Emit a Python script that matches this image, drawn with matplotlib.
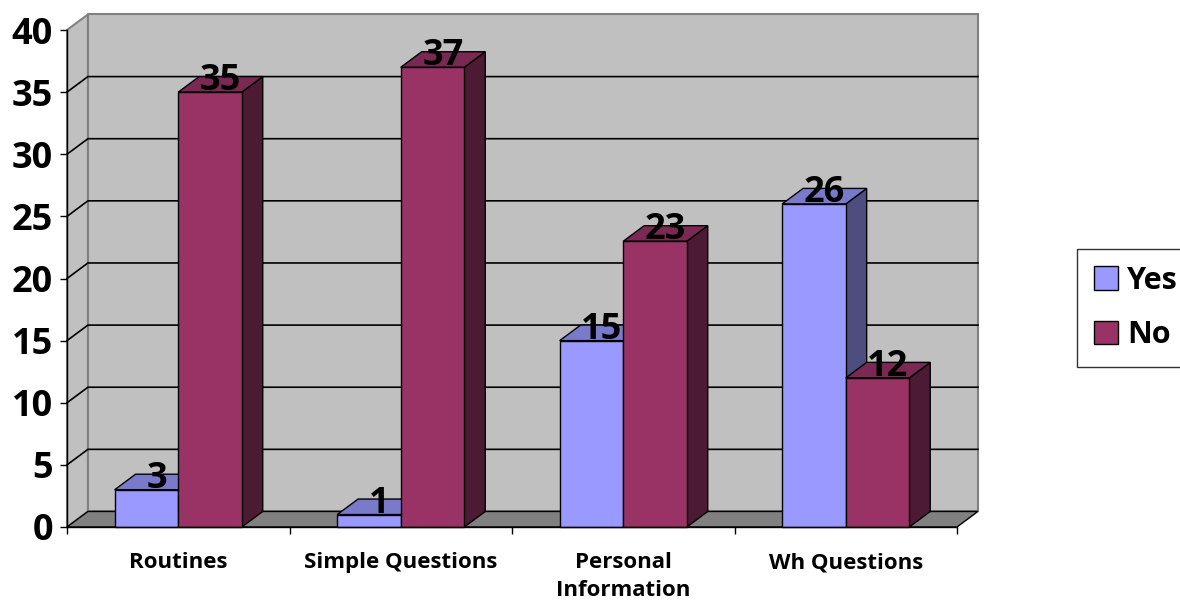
import matplotlib
matplotlib.use("Agg")
import matplotlib.pyplot as plt
from matplotlib.patches import Polygon, Patch

# Chart data
categories = ["Routines", "Simple Questions", "Personal\nInformation", "Wh Questions"]
yes_values = [3, 1, 15, 26]
no_values = [35, 37, 23, 12]
series_names = ["Yes", "No"]
y_ticks = [0, 5, 10, 15, 20, 25, 30, 35, 40]

# Face colours for each series: front, top, side
yes_colors = ("#9999FF", "#7A7ACC", "#4D4D80")
no_colors = ("#993366", "#7A2952", "#4D1A33")

plt.rcParams["font.family"] = ["Open Sans", "DejaVu Sans"]
plt.rcParams["font.weight"] = "bold"

W, H = 1180, 606
fig = plt.figure(figsize=(W / 100, H / 100), dpi=100)
ax = fig.add_axes([67 / W, 79 / H, 890 / W, 497 / H])

n = len(categories)
ymax = y_ticks[-1]
ax.set_xlim(0, n)
ax.set_ylim(0, ymax)

# depth of the pseudo-3D walls and columns, in data units
DX = 0.094
DY = 1.25
bar_w = 1 / 3.5

# back wall, side wall and floor
ax.add_patch(Polygon([(DX, DY), (n + DX, DY), (n + DX, ymax + DY), (DX, ymax + DY)],
                     closed=True, fc="#C0C0C0", ec="#808080", lw=1.5,
                     clip_on=False, zorder=0))
ax.add_patch(Polygon([(0, 0), (DX, DY), (DX, ymax + DY), (0, ymax)],
                     closed=True, fc="#C0C0C0", ec="#808080", lw=1.5,
                     clip_on=False, zorder=0))
ax.add_patch(Polygon([(0, 0), (n, 0), (n + DX, DY), (DX, DY)],
                     closed=True, fc="#808080", ec="black", lw=1.0,
                     clip_on=False, zorder=0.5))

# gridlines running along the side wall and the back wall
for v in y_ticks[1:-1]:
    ax.plot([0, DX, n + DX], [v, v + DY, v + DY], color="black", lw=1.2,
            clip_on=False, zorder=1, solid_joinstyle="miter")


def column(x0, h, colors, z):
    front, top, side = colors
    ax.add_patch(Polygon([(x0 + bar_w, 0), (x0 + bar_w + DX, DY),
                          (x0 + bar_w + DX, h + DY), (x0 + bar_w, h)],
                         closed=True, fc=side, ec="black", lw=1.0,
                         clip_on=False, zorder=z))
    ax.add_patch(Polygon([(x0, h), (x0 + bar_w, h), (x0 + bar_w + DX, h + DY),
                          (x0 + DX, h + DY)],
                         closed=True, fc=top, ec="black", lw=1.0,
                         clip_on=False, zorder=z))
    ax.add_patch(Polygon([(x0, 0), (x0 + bar_w, 0), (x0 + bar_w, h), (x0, h)],
                         closed=True, fc=front, ec="black", lw=1.0,
                         clip_on=False, zorder=z + 0.01))
    ax.text(x0 + bar_w / 2 + DX / 2, h + 0.15, str(h), ha="center",
            va="baseline", fontsize=26, fontweight="bold", zorder=20)


z = 2.0
for i in range(n):
    column(i + 0.5 - bar_w, yes_values[i], yes_colors, z)
    z += 0.1
    column(i + 0.5, no_values[i], no_colors, z)
    z += 0.1

# axes styling
for s in ("top", "right"):
    ax.spines[s].set_visible(False)
for s in ("left", "bottom"):
    ax.spines[s].set_color("black")
    ax.spines[s].set_linewidth(1.0)
    ax.spines[s].set_zorder(30)

ax.set_yticks(y_ticks)
ax.set_yticklabels([str(t) for t in y_ticks])
ax.tick_params(axis="y", length=5, width=1, pad=5, labelsize=26)

ax.set_xticks(range(n + 1))
ax.set_xticklabels([])
ax.tick_params(axis="x", which="major", length=5, width=1)
ax.set_xticks([i + 0.5 for i in range(n)], minor=True)
ax.set_xticklabels(categories, minor=True, fontsize=16, fontweight="bold",
                   linespacing=1.45)
ax.tick_params(axis="x", which="minor", length=0, pad=18)

handles = [Patch(fc=yes_colors[0], ec="black", lw=1.0),
           Patch(fc=no_colors[0], ec="black", lw=1.0)]
leg = fig.legend(handles, series_names, loc="upper left",
                 bbox_to_anchor=(1077 / W, 1 - 249 / H), frameon=True,
                 fancybox=False, edgecolor="black", fontsize=22,
                 handlelength=0.8, handleheight=0.8, handletextpad=0.3,
                 borderpad=0.55, labelspacing=0.8, borderaxespad=0)
leg.get_frame().set_linewidth(1.0)
for t in leg.get_texts():
    t.set_fontweight("bold")

fig.savefig("out.png", dpi=100)
